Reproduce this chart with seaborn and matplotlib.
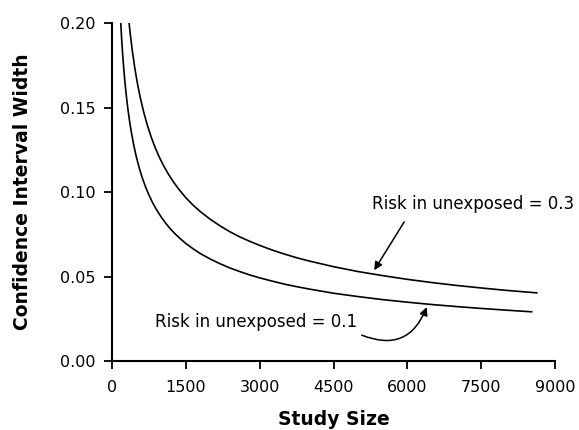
import matplotlib
matplotlib.use('Agg')
import matplotlib.pyplot as plt
import seaborn as sns
import pandas as pd

# values
size_01 = [183, 200, 220, 245, 270, 300, 330, 365, 400, 450, 500, 560, 620, 690, 750, 830,
           900, 1000, 1100, 1200, 1300, 1400, 1500, 1650, 1800, 2000, 2200, 2400, 2600, 2800,
           3000, 3250, 3500, 3750, 4000, 4500, 5000, 5500, 6000, 6500, 7000, 7500, 8000, 8525]
width_01 = [0.2000, 0.1909, 0.1820, 0.1725, 0.1643, 0.1559, 0.1486, 0.1413, 0.1350, 0.1273,
            0.1207, 0.1141, 0.1084, 0.1028, 0.0986, 0.0937, 0.0900, 0.0854, 0.0814, 0.0779,
            0.0749, 0.0722, 0.0697, 0.0665, 0.0636, 0.0604, 0.0576, 0.0551, 0.0530, 0.0510,
            0.0493, 0.0474, 0.0456, 0.0441, 0.0427, 0.0402, 0.0382, 0.0364, 0.0349, 0.0335,
            0.0323, 0.0312, 0.0302, 0.0292]
size_03 = [351, 380, 420, 470, 520, 580, 650, 720, 800, 880, 960, 1050, 1150, 1250, 1350,
           1500, 1650, 1800, 2000, 2200, 2400, 2600, 2800, 3000, 3250, 3500, 3750, 4000,
           4500, 5000, 5500, 6000, 6500, 7000, 7500, 8000, 8630]
width_03 = [0.2002, 0.1924, 0.1830, 0.1730, 0.1644, 0.1557, 0.1471, 0.1398, 0.1326, 0.1264,
            0.1210, 0.1157, 0.1106, 0.1061, 0.1021, 0.0968, 0.0923, 0.0884, 0.0839, 0.0800,
            0.0765, 0.0735, 0.0709, 0.0685, 0.0658, 0.0634, 0.0612, 0.0593, 0.0559, 0.0530,
            0.0506, 0.0484, 0.0465, 0.0448, 0.0433, 0.0419, 0.0404]

df = pd.concat([
    pd.DataFrame({'Study Size': size_01, 'CI width': width_01, 'risk': '0.1'}),
    pd.DataFrame({'Study Size': size_03, 'CI width': width_03, 'risk': '0.3'}),
])

sns.set_style('ticks')
plt.rcParams['font.family'] = ['DejaVu Sans']
plt.rcParams['text.color'] = 'black'
plt.rcParams['axes.labelcolor'] = 'black'

fig = plt.figure(figsize=(5.79, 4.30), dpi=100)
ax = fig.add_axes([0.193, 0.160, 0.766, 0.7865])
sns.lineplot(data=df, x='Study Size', y='CI width', hue='risk',
             palette={'0.1': 'black', '0.3': 'black'}, linewidth=1.2,
             legend=False, ax=ax)

ax.set_xlim(0, 9000)
ax.set_ylim(0, 0.20)
ax.set_xticks(range(0, 9001, 1500))
ax.set_yticks([0.0, 0.05, 0.10, 0.15, 0.20])
ax.set_yticklabels(['0.00', '0.05', '0.10', '0.15', '0.20'])
sns.despine(ax=ax)
for s in ['left', 'bottom']:
    ax.spines[s].set_linewidth(1.5)
    ax.spines[s].set_color('black')
ax.tick_params(axis='both', direction='out', length=5.5, width=1.3,
               colors='black', labelsize=11.5)
ax.tick_params(axis='x', pad=8)
ax.tick_params(axis='y', pad=6)

ax.set_xlabel('Study Size', fontsize=13.5, fontweight='bold', labelpad=10.5)
ax.set_ylabel('Confidence Interval Width', fontsize=13.5, fontweight='bold', labelpad=20)

ax.text(5283, 0.0929, 'Risk in unexposed = 0.3', fontsize=12, va='center', ha='left',
        clip_on=False)
ax.annotate('', xy=(5326, 0.0538), xytext=(5935, 0.0824),
            arrowprops=dict(arrowstyle='-|>', color='black', lw=1.1,
                            mutation_scale=12, shrinkA=0, shrinkB=0))
ax.text(879, 0.0231, 'Risk in unexposed = 0.1', fontsize=12, va='center', ha='left')
ax.annotate('', xy=(6392, 0.0320), xytext=(5073, 0.0154),
            arrowprops=dict(arrowstyle='-|>', color='black', lw=1.1,
                            mutation_scale=12, shrinkA=0, shrinkB=0,
                            connectionstyle='arc3,rad=0.5'))

fig.savefig('out.png', dpi=100)
